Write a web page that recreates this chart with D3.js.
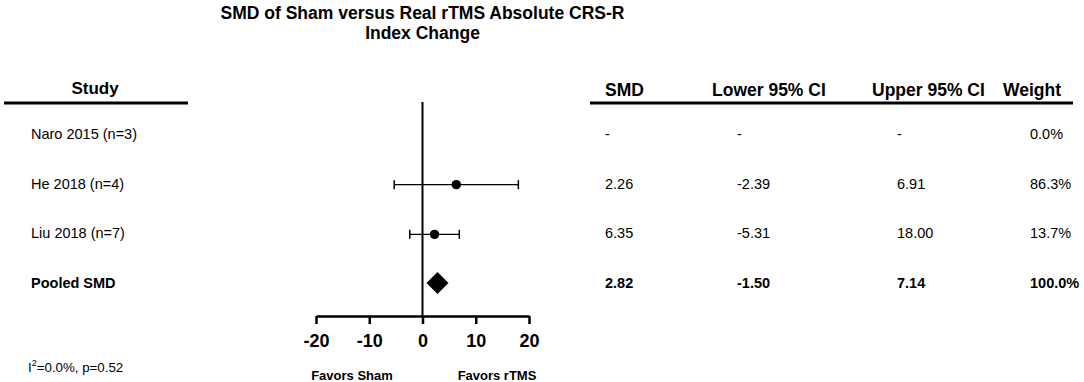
<!DOCTYPE html>
<html><head><meta charset="utf-8">
<script src="https://cdn.jsdelivr.net/npm/d3@7/dist/d3.min.js"></script>
<style>body{margin:0;background:#fff}svg{display:block;font-family:"Liberation Sans",Arial,sans-serif}</style>
</head><body><svg id="c" width="1084" height="382"></svg>
<script>
const rows = ["Naro 2015 (n=3)", "He 2018 (n=4)", "Liu 2018 (n=7)", "Pooled SMD"];
const plotMean = [null, 6.35, 2.26, 2.82];
const plotLower = [null, -5.31, -2.39, -1.50];
const plotUpper = [null, 18.00, 6.91, 7.14];
const smdText = ["-", "2.26", "6.35", "2.82"];
const lowerText = ["-", "-2.39", "-5.31", "-1.50"];
const upperText = ["-", "6.91", "18.00", "7.14"];
const weightText = ["0.0%", "86.3%", "13.7%", "100.0%"];
const tickVals = [-20, -10, 0, 10, 20];
const colHeaders = ["SMD", "Lower 95% CI", "Upper 95% CI", "Weight"];

const svg = d3.select("#c");
const x = d3.scaleLinear().domain([-20, 20]).range([316, 529]);
const y = d3.scalePoint().domain(rows).range([134, 283]);
const axisY = 316;

// title
svg.append("text").attr("x", x(0)).attr("y", 19).attr("text-anchor", "middle")
  .attr("font-size", 17.5).attr("font-weight", "bold").text("SMD of Sham versus Real rTMS Absolute CRS-R");
svg.append("text").attr("x", x(0)).attr("y", 39).attr("text-anchor", "middle")
  .attr("font-size", 17.5).attr("font-weight", "bold").text("Index Change");

// study header
svg.append("text").attr("x", 95).attr("y", 94).attr("text-anchor", "middle")
  .attr("font-size", 17).attr("font-weight", "bold").text("Study");
svg.append("line").attr("x1", 4).attr("x2", 188).attr("y1", 103).attr("y2", 103)
  .attr("stroke", "#000").attr("stroke-width", 3);

// row labels
svg.selectAll("text.row").data(rows).join("text").attr("class", "row")
  .attr("x", 31).attr("y", d => y(d)).attr("dy", "0.35em")
  .attr("font-size", 14.5).attr("font-weight", (d, i) => i === 3 ? "bold" : null)
  .text(d => d);

// I2
const i2 = svg.append("text").attr("x", 28).attr("y", 372).attr("font-size", 13.3);
i2.append("tspan").text("I");
i2.append("tspan").attr("font-size", 9).attr("dy", -6).text("2");
i2.append("tspan").attr("dy", 6).text("=0.0%, p=0.52");

// zero line
svg.append("line").attr("x1", x(0)).attr("x2", x(0)).attr("y1", 102).attr("y2", axisY)
  .attr("stroke", "#000").attr("stroke-width", 2);

// axis
const ax = svg.append("g").attr("transform", `translate(0,${axisY})`)
  .call(d3.axisBottom(x).tickValues(tickVals).tickFormat(d => String(d)).tickSize(8).tickSizeOuter(0));
ax.select(".domain").attr("stroke-width", 2.5);
ax.selectAll(".tick line").attr("stroke-width", 2.5);
ax.selectAll(".tick text").attr("font-size", 18).attr("font-weight", "bold")
  .attr("font-family", "Liberation Sans, Arial, sans-serif").attr("y", 18).attr("fill", "#000");

svg.append("text").attr("x", 352).attr("y", 380).attr("text-anchor", "middle")
  .attr("font-size", 13).attr("font-weight", "bold").text("Favors Sham");
svg.append("text").attr("x", 497).attr("y", 380).attr("text-anchor", "middle")
  .attr("font-size", 13).attr("font-weight", "bold").text("Favors rTMS");

// study CIs
const studyIdx = [1, 2];
studyIdx.forEach(i => {
  const yy = y(rows[i]) + 1;
  svg.append("line").attr("x1", x(plotLower[i])).attr("x2", x(plotUpper[i])).attr("y1", yy).attr("y2", yy)
    .attr("stroke", "#000").attr("stroke-width", 1.3);
  [plotLower[i], plotUpper[i]].forEach(v => {
    svg.append("line").attr("x1", x(v)).attr("x2", x(v)).attr("y1", yy - 4.5).attr("y2", yy + 4.5)
      .attr("stroke", "#000").attr("stroke-width", 1.5);
  });
  svg.append("circle").attr("cx", x(plotMean[i])).attr("cy", yy).attr("r", 4.7).attr("fill", "#000");
});

// pooled diamond
{
  const cx = x(plotMean[3]), cy = y(rows[3]);
  svg.append("path").attr("d", `M${cx - 11},${cy}L${cx},${cy - 11}L${cx + 11},${cy}L${cx},${cy + 11}Z`).attr("fill", "#000");
}

// table
const headerX = [605, 712, 872, 1003];
const colX = [605, 737, 897, 1030];
colHeaders.forEach((h, j) => {
  svg.append("text").attr("x", headerX[j]).attr("y", 96).attr("font-size", 17.5)
    .attr("font-weight", "bold").text(h);
});
svg.append("line").attr("x1", 590).attr("x2", 1073).attr("y1", 103).attr("y2", 103)
  .attr("stroke", "#000").attr("stroke-width", 3);
const cols = [smdText, lowerText, upperText, weightText];
cols.forEach((arr, j) => {
  arr.forEach((t, i) => {
    svg.append("text").attr("x", colX[j]).attr("y", y(rows[i])).attr("dy", "0.35em")
      .attr("font-size", 14.5).attr("font-weight", i === 3 ? "bold" : null).text(t);
  });
});
</script></body></html>
